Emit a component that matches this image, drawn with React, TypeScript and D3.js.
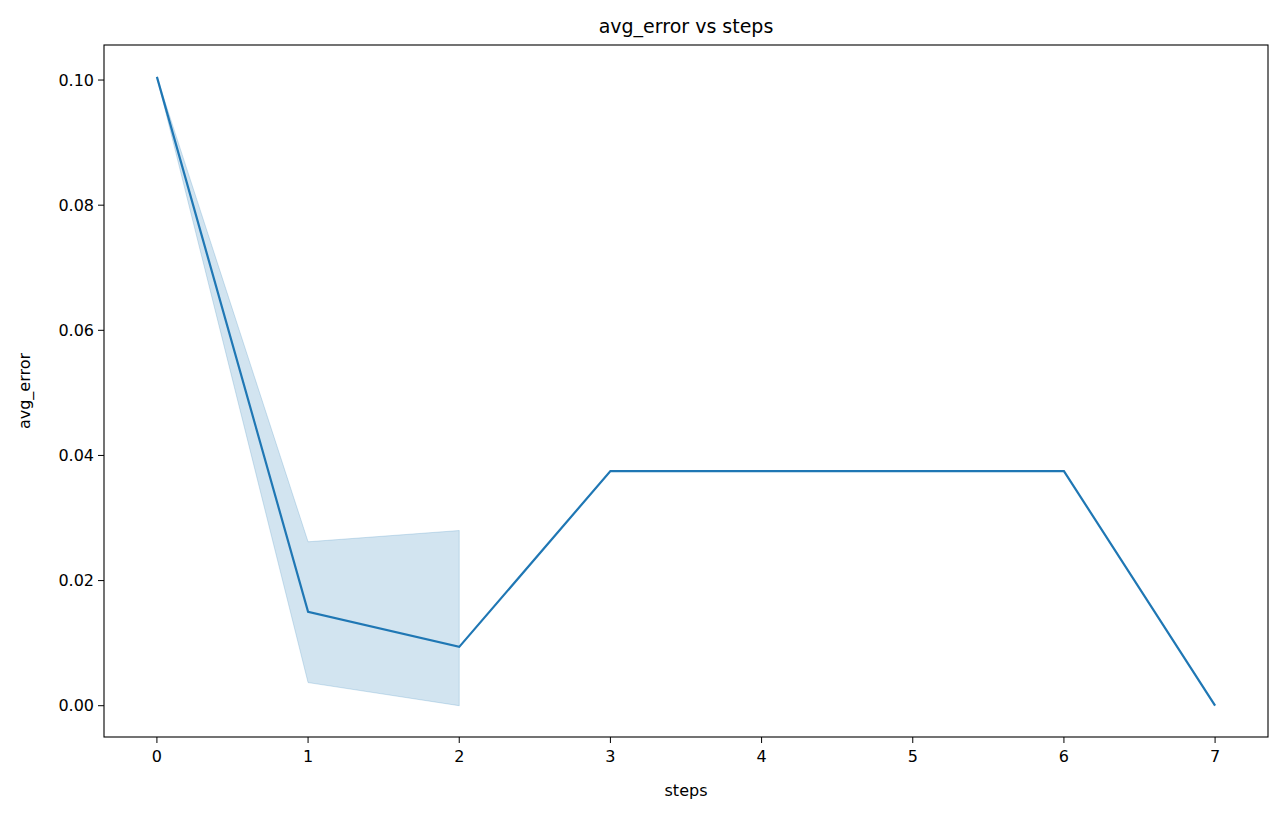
import React from 'react';
import * as d3 from 'd3';

// values
const steps = [0, 1, 2, 3, 4, 5, 6, 7];
const meanError = [0.1005, 0.015, 0.0094, 0.0375, 0.0375, 0.0375, 0.0375, 0.0];
const bandSteps = [0, 1, 2];
const bandLower = [0.1005, 0.0037, 0.0];
const bandUpper = [0.1005, 0.0262, 0.028];
const yTicks = [0, 0.02, 0.04, 0.06, 0.08, 0.1];

const W = 1281;
const H = 816;
const m = { left: 104, right: 13, top: 45, bottom: 79 };

const App: React.FC = () => {
    const x = d3.scaleLinear().domain([-0.35, 7.35]).range([m.left, W - m.right]);
    const y = d3.scaleLinear().domain([-0.005, 0.1056]).range([H - m.bottom, m.top]);

    const line = d3.line<number>()
        .x((_, i) => x(steps[i]))
        .y(d => y(d));

    const area = d3.area<number>()
        .x(d => x(d))
        .y0((_, i) => y(bandLower[i]))
        .y1((_, i) => y(bandUpper[i]));

    const font = 'DejaVu Sans, sans-serif';

    return (
        <svg width={W} height={H} style={{ position: 'absolute', left: 0, top: 0, fontFamily: font }}>
            <rect width={W} height={H} fill="white" />
            <path d={area(bandSteps) || ''} fill="#1f77b4" fillOpacity={0.2} stroke="#1f77b4" strokeOpacity={0.2} />
            <path d={line(meanError) || ''} fill="none" stroke="#1f77b4" strokeWidth={2.2} />
            <rect x={m.left} y={m.top} width={W - m.left - m.right} height={H - m.top - m.bottom}
                fill="none" stroke="black" strokeWidth={1.1} />
            {steps.map(s => (
                <g key={s} transform={`translate(${x(s)},${H - m.bottom})`}>
                    <line y2={6} stroke="black" />
                    <text y={25} textAnchor="middle" fontSize={16}>{s}</text>
                </g>
            ))}
            {yTicks.map(t => (
                <g key={t} transform={`translate(${m.left},${y(t)})`}>
                    <line x2={-6} stroke="black" />
                    <text x={-10} dy="0.35em" textAnchor="end" fontSize={16}>{t.toFixed(2)}</text>
                </g>
            ))}
            <text x={(m.left + W - m.right) / 2} y={796} textAnchor="middle" fontSize={16}>steps</text>
            <text transform={`translate(30,${(m.top + H - m.bottom) / 2}) rotate(-90)`} textAnchor="middle" fontSize={16}>avg_error</text>
            <text x={(m.left + W - m.right) / 2} y={33} textAnchor="middle" fontSize={19}>avg_error vs steps</text>
        </svg>
    );
};

export default App;
